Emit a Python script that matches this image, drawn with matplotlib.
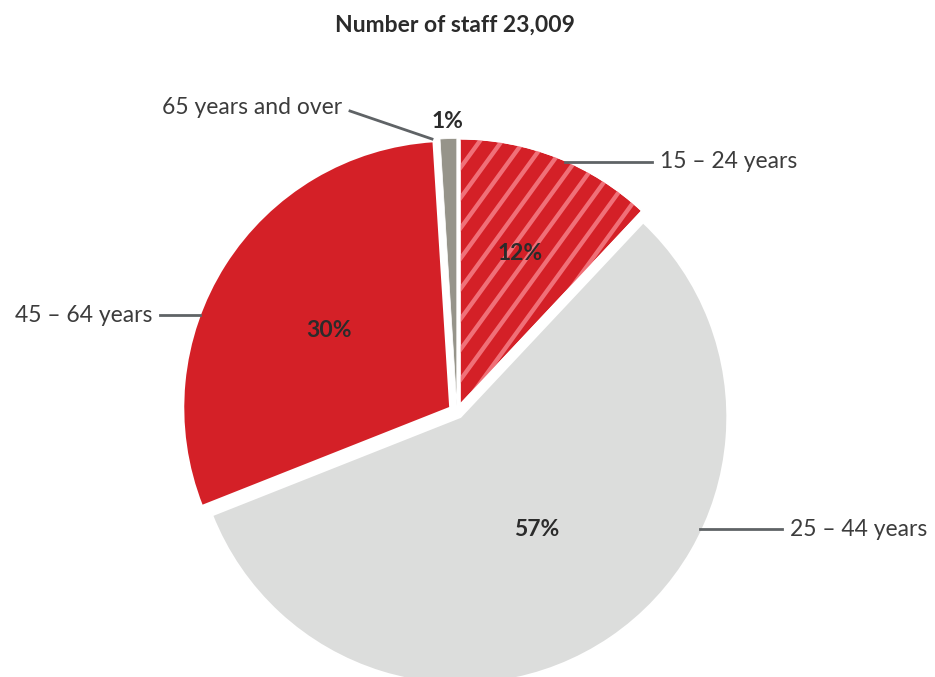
import numpy as np
import matplotlib.pyplot as plt
from matplotlib.patches import Wedge

plt.rcParams['font.family'] = ['Lato', 'DejaVu Sans']

# Staff by age group, clockwise from 12 o'clock
groups = ['15 – 24 years', '25 – 44 years', '45 – 64 years', '65 years and over']
shares = [12, 57, 30, 1]
colors = ['#D42027', '#DCDDDC', '#D42027', '#96948A']
total_staff = 23009

W, H = 935, 677
fig = plt.figure(figsize=(W / 100, H / 100), dpi=100)
ax = fig.add_axes([0, 0, 1, 1])

cx, cy, R = 457, H - 412, 267
edge_w = 1.5
# pie explode is in data units here (pixels)
wedges, _ = ax.pie(shares, colors=colors, startangle=90, counterclock=False,
                   center=(cx, cy), radius=R, explode=[7, 6, 8, 6.5],
                   wedgeprops=dict(edgecolor='white', linewidth=edge_w))
wedges[3].set_linewidth(0.5)

# diagonal light stripes on the youngest group
w0 = wedges[0]
ang = np.deg2rad(54)
step = 22
for c in np.arange(-900, 900, step):
    xs = np.array([cx - 400, cx + 400])
    ys = cy + (xs - cx - c) * np.tan(ang)
    ln, = ax.plot(xs, ys, color='#F07078', lw=3.1, solid_capstyle='butt', zorder=3)
    ln.set_clip_path(w0)
ax.add_patch(Wedge(w0.center, w0.r, w0.theta1, w0.theta2, facecolor='none',
                   edgecolor='white', linewidth=edge_w, zorder=4))

# percentage labels
pct_dist = [0.64, 0.53, 0.57, 1.09]
for w, v, d in zip(wedges, shares, pct_dist):
    mid = np.deg2rad((w.theta1 + w.theta2) / 2)
    ax.text(cx + d * R * np.cos(mid), cy + d * R * np.sin(mid), f'{v}%',
            ha='center', va='center', fontsize=16.5, fontweight='bold',
            color='#2b2b2b', zorder=5)

# leader lines and group names
lc = '#5f6366'
tc = '#3c3c3c'
fs = 16.5
ax.plot([565, 652], [H - 162, H - 162], color=lc, lw=2, zorder=5)
ax.text(660, H - 162, groups[0], ha='left', va='center', fontsize=fs, color=tc)
ax.plot([700, 782], [H - 529, H - 529], color=lc, lw=2, zorder=5)
ax.text(790, H - 529, groups[1], ha='left', va='center', fontsize=fs, color=tc)
ax.plot([160, 200], [H - 315, H - 315], color=lc, lw=2, zorder=5)
ax.text(152, H - 315, groups[2], ha='right', va='center', fontsize=fs, color=tc)
ax.plot([350, 432], [H - 111, H - 139], color=lc, lw=2, zorder=5)
ax.text(342, H - 108, groups[3], ha='right', va='center', fontsize=fs, color=tc)

ax.text(455, H - 25, f'Number of staff {total_staff:,}', ha='center', va='center',
        fontsize=16.5, fontweight='bold', color='#2b2b2b')

ax.set_xlim(0, W)
ax.set_ylim(0, H)
ax.set_aspect('equal')
ax.axis('off')

fig.savefig('out.png', dpi=100)
